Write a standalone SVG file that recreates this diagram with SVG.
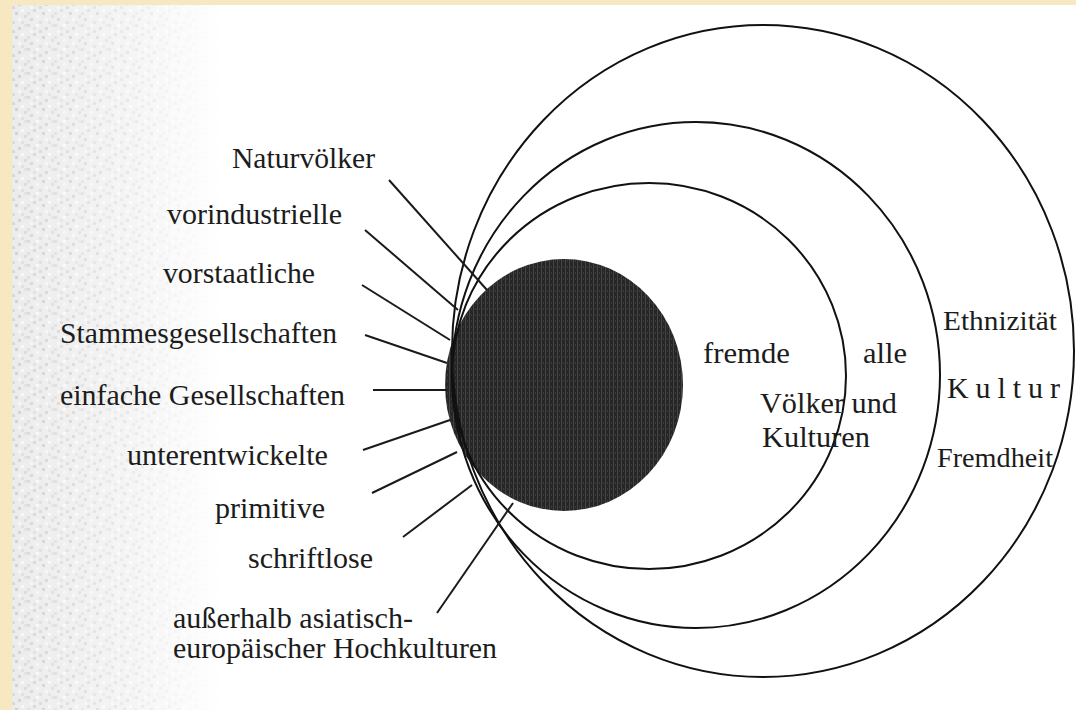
<svg xmlns="http://www.w3.org/2000/svg" width="1076" height="710" viewBox="0 0 1076 710">
  <defs>
    <style>
      .t { font-family: "Liberation Serif", "Times New Roman", serif; font-size: 30px; fill: #1c1c1c; }
      .ring { fill: none; stroke: #111; stroke-width: 2; }
      .lead { stroke: #1a1a1a; stroke-width: 2; fill: none; }
    </style>
    <linearGradient id="fade" x1="0" y1="0" x2="1" y2="0">
      <stop offset="0" stop-color="#fff" stop-opacity="1"/>
      <stop offset="0.55" stop-color="#fff" stop-opacity="0.55"/>
      <stop offset="1" stop-color="#fff" stop-opacity="0"/>
    </linearGradient>
    <mask id="fadeMask">
      <rect x="12" y="5" width="210" height="705" fill="url(#fade)"/>
    </mask>
    <pattern id="noise" width="27" height="24" patternUnits="userSpaceOnUse">
      <rect width="27" height="24" fill="#ececec"/>
      <rect x="0" y="0" width="3" height="3" fill="#d9d9d9"/>
      <rect x="9" y="0" width="3" height="3" fill="#f7f7f7"/>
      <rect x="18" y="3" width="3" height="3" fill="#d4d4d4"/>
      <rect x="6" y="3" width="3" height="3" fill="#e0e0e0"/>
      <rect x="24" y="0" width="3" height="3" fill="#e2e2e2"/>
      <rect x="3" y="6" width="3" height="3" fill="#f5f5f5"/>
      <rect x="12" y="6" width="3" height="3" fill="#d8d8d8"/>
      <rect x="21" y="9" width="3" height="3" fill="#f8f8f8"/>
      <rect x="0" y="12" width="3" height="3" fill="#dedede"/>
      <rect x="15" y="12" width="3" height="3" fill="#d2d2d2"/>
      <rect x="9" y="15" width="3" height="3" fill="#f4f4f4"/>
      <rect x="24" y="15" width="3" height="3" fill="#dadada"/>
      <rect x="3" y="18" width="3" height="3" fill="#d6d6d6"/>
      <rect x="18" y="18" width="3" height="3" fill="#f6f6f6"/>
      <rect x="12" y="21" width="3" height="3" fill="#dcdcdc"/>
      <rect x="6" y="9" width="3" height="3" fill="#d7d7d7"/>
      <rect x="21" y="21" width="3" height="3" fill="#e1e1e1"/>
    </pattern>
    <pattern id="stripes" width="4" height="6" patternUnits="userSpaceOnUse">
      <rect width="4" height="6" fill="#262626"/>
      <rect x="1" y="0" width="1" height="6" fill="#444"/>
      <rect x="3" y="2" width="1" height="2" fill="#3a3a3a"/>
    </pattern>
  </defs>

  <g id="background">
    <rect x="0" y="0" width="1076" height="710" fill="#f8e8c2"/>
    <rect x="12" y="5" width="1064" height="705" fill="#ffffff"/>
    <rect x="12" y="5" width="210" height="705" fill="url(#noise)" mask="url(#fadeMask)"/>
  </g>

  <g id="kern">
    <ellipse cx="564" cy="385" rx="119" ry="126" fill="url(#stripes)"/>
  </g>

  <g id="kreis-voelker-kulturen">
    <ellipse class="ring" cx="649" cy="376" rx="197" ry="193"/>
  </g>
  <g id="kreis-ethnizitaet-fremdheit">
    <ellipse class="ring" cx="696" cy="375" rx="244" ry="253"/>
  </g>
  <g id="kreis-kultur">
    <ellipse class="ring" cx="763" cy="351" rx="311" ry="326"/>
  </g>

  <g id="connectors">
    <line class="lead" x1="389" y1="180" x2="487" y2="290"/>
    <line class="lead" x1="365" y1="230" x2="458" y2="310"/>
    <line class="lead" x1="362" y1="285" x2="450" y2="340"/>
    <line class="lead" x1="365" y1="335" x2="447" y2="363"/>
    <line class="lead" x1="373" y1="390" x2="447" y2="390"/>
    <line class="lead" x1="363" y1="450" x2="450" y2="420"/>
    <line class="lead" x1="372" y1="493" x2="457" y2="452"/>
    <line class="lead" x1="403" y1="537" x2="472" y2="485"/>
    <line class="lead" x1="437" y1="613" x2="513" y2="503"/>
  </g>

  <g id="label-naturvoelker"><text class="t" x="232" y="168" textLength="143" lengthAdjust="spacingAndGlyphs">Naturvölker</text></g>
  <g id="label-vorindustrielle"><text class="t" x="167" y="224" textLength="175" lengthAdjust="spacingAndGlyphs">vorindustrielle</text></g>
  <g id="label-vorstaatliche"><text class="t" x="163" y="283" textLength="152" lengthAdjust="spacingAndGlyphs">vorstaatliche</text></g>
  <g id="label-stammesgesellschaften"><text class="t" x="60" y="343" textLength="277" lengthAdjust="spacingAndGlyphs">Stammesgesellschaften</text></g>
  <g id="label-einfache"><text class="t" x="60" y="405" textLength="285" lengthAdjust="spacingAndGlyphs">einfache Gesellschaften</text></g>
  <g id="label-unterentwickelte"><text class="t" x="127" y="465" textLength="201" lengthAdjust="spacingAndGlyphs">unterentwickelte</text></g>
  <g id="label-primitive"><text class="t" x="215" y="518" textLength="110" lengthAdjust="spacingAndGlyphs">primitive</text></g>
  <g id="label-schriftlose"><text class="t" x="248" y="568" textLength="125" lengthAdjust="spacingAndGlyphs">schriftlose</text></g>
  <g id="label-ausserhalb">
    <text class="t" x="173" y="628" textLength="240" lengthAdjust="spacingAndGlyphs">außerhalb asiatisch-</text>
    <text class="t" x="173" y="658" textLength="324" lengthAdjust="spacingAndGlyphs">europäischer Hochkulturen</text>
  </g>

  <g id="label-fremde"><text class="t" x="703" y="363" textLength="87" lengthAdjust="spacingAndGlyphs">fremde</text></g>
  <g id="label-alle"><text class="t" x="863" y="363" textLength="44" lengthAdjust="spacingAndGlyphs">alle</text></g>
  <g id="label-voelker-und-kulturen">
    <text class="t" x="760" y="413" textLength="137" lengthAdjust="spacingAndGlyphs">Völker und</text>
    <text class="t" x="762" y="447" textLength="108" lengthAdjust="spacingAndGlyphs">Kulturen</text>
  </g>
  <g id="label-ethnizitaet"><text class="t" x="943" y="330" textLength="114" lengthAdjust="spacingAndGlyphs" style="font-size:27px">Ethnizität</text></g>
  <g id="label-kultur"><text class="t" x="947" y="398" textLength="113">K u l t u r</text></g>
  <g id="label-fremdheit"><text class="t" x="937" y="467" textLength="116" lengthAdjust="spacingAndGlyphs" style="font-size:28px">Fremdheit</text></g>
</svg>
